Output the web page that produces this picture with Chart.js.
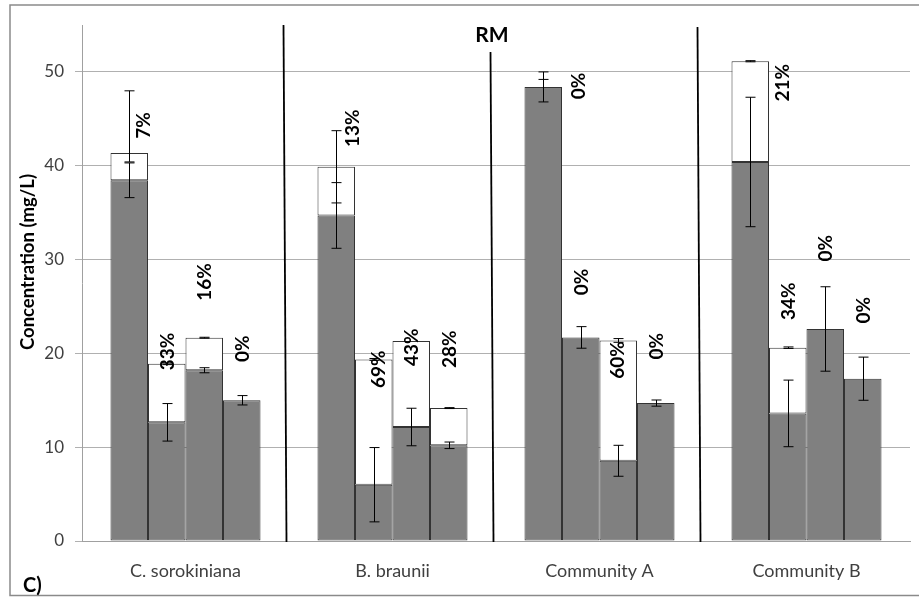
<!DOCTYPE html>
<html>
<head>
<meta charset="utf-8">
<script src="https://cdn.jsdelivr.net/npm/chart.js@4/dist/chart.umd.min.js"></script>
<style>
  html, body { margin: 0; padding: 0; background: #fff; }
  canvas { display: block; }
</style>
</head>
<body>
<canvas id="c" width="919" height="598"></canvas>
<script>
// Groups along the x axis and the value ticks on the y axis
const categories = ['C. sorokiniana', 'B. braunii', 'Community A', 'Community B'];
const yTicks = [0, 10, 20, 30, 40, 50];

// Solid (grey) part of each bar in mg/L, one array per bar position inside a group
const solid1 = [38.45, 34.7, 48.4, 40.4];
const solid2 = [12.65, 6.0, 21.7, 13.6];
const solid3 = [18.2, 12.15, 8.55, 22.6];
const solid4 = [15.0, 10.2, 14.7, 17.3];

// Share of the bar total taken by the open (white) part, in %
const share1 = [7, 13, 0, 21];
const share2 = [33, 69, 0, 34];
const share3 = [16, 43, 60, 0];
const share4 = [0, 28, 0, 0];

// Error (±) on the solid part
const solidErr1 = [1.85, 3.5, 1.6, 6.9];
const solidErr2 = [2.0, 3.96, 1.15, 3.55];
const solidErr3 = [0.27, 2.0, 1.65, 4.5];
const solidErr4 = [0.5, 0.35, 0.33, 2.3];

// Error on the bar total, upward and downward
const totalErrUp1 = [6.64, 3.85, 0.8, 0.06];
const totalErrDn1 = [0.94, 3.85, 0, 0.06];
const totalErrUp2 = [0.08, 0.1, 0, 0.08];
const totalErrDn2 = [0.08, 0.1, 0, 0.08];
const totalErrUp3 = [0.05, 0, 0.2, 0];
const totalErrDn3 = [0.05, 0, 0.2, 0];
const totalErrUp4 = [0, 0.05, 0, 0];
const totalErrDn4 = [0, 0.05, 0, 0];

// Where each % label sits: centre level in mg/L and a sideways nudge in px
const labelAt1 = [44.3, 44.0, 48.5, 48.85];
const labelNudge1 = [14, 16, 35, 32];
const labelAt2 = [20.2, 18.3, 27.6, 25.55];
const labelNudge2 = [0, 4, 0, 0];
const labelAt3 = [27.6, 20.65, 19.3, 31.2];
const labelNudge3 = [0, 0, -1, 0];
const labelAt4 = [20.5, 20.45, 20.75, 24.6];
const labelNudge4 = [0, 0, 0, 0];

const solids = [solid1, solid2, solid3, solid4];
const shares = [share1, share2, share3, share4];
const solidErrs = [solidErr1, solidErr2, solidErr3, solidErr4];
const totalUps = [totalErrUp1, totalErrUp2, totalErrUp3, totalErrUp4];
const totalDns = [totalErrDn1, totalErrDn2, totalErrDn3, totalErrDn4];
const labelAts = [labelAt1, labelAt2, labelAt3, labelAt4];
const labelNudges = [labelNudge1, labelNudge2, labelNudge3, labelNudge4];

// Open part follows from the solid part and its share of the total
const opens = solids.map((s, k) => s.map((v, i) => {
  const p = shares[k][i];
  return p > 0 ? v * p / (100 - p) : null;
}));

const FONT = 'Lato, "Open Sans", sans-serif';
const EDGE = '#333333';

const datasets = [];
for (let k = 0; k < 4; k++) {
  datasets.push({
    label: 'solid ' + (k + 1), data: solids[k], stack: 's' + k,
    backgroundColor: '#808080', borderColor: EDGE, borderWidth: 1, borderSkipped: false
  });
  datasets.push({
    label: 'open ' + (k + 1), data: opens[k], stack: 's' + k,
    backgroundColor: '#ffffff', borderColor: EDGE, borderWidth: 1, borderSkipped: false
  });
}

// White page with the grey outer frame
const frame = {
  id: 'frame',
  beforeDraw(chart) {
    const ctx = chart.ctx;
    ctx.save();
    ctx.fillStyle = '#fff';
    ctx.fillRect(0, 0, chart.width, chart.height);
    ctx.strokeStyle = '#8a8a8a';
    ctx.lineWidth = 1.5;
    ctx.strokeRect(10, 5, chart.width + 10, 590.5);
    ctx.restore();
  }
};

// Error bars, % labels, group separators and the extra texts
const overlay = {
  id: 'overlay',
  afterDatasetsDraw(chart) {
    const ctx = chart.ctx;
    const ys = chart.scales.y, xs = chart.scales.x, area = chart.chartArea;
    ctx.save();

    // vertical separators between the groups
    ctx.strokeStyle = '#000';
    ctx.lineWidth = 1.8;
    const sepTop = [area.top, 52, area.top + 2];
    for (let i = 0; i < 3; i++) {
      const b = xs.getPixelForValue(i + 0.5);
      ctx.beginPath();
      ctx.moveTo(b - 5.5, sepTop[i]);
      ctx.lineTo(b - 2.5, area.bottom + 1);
      ctx.stroke();
    }

    // error bars
    ctx.lineWidth = 1;
    ctx.strokeStyle = '#000';
    const cap = 5;
    const whisker = (x, v, up, dn) => {
      if (!(up > 0) && !(dn > 0)) return;
      const yTop = ys.getPixelForValue(v + up);
      const yBot = ys.getPixelForValue(v - dn);
      const xx = Math.round(x) + 0.5;
      ctx.beginPath();
      ctx.moveTo(xx, yTop); ctx.lineTo(xx, yBot);
      if (up > 0) { ctx.moveTo(xx - cap, yTop); ctx.lineTo(xx + cap, yTop); }
      if (dn > 0) { ctx.moveTo(xx - cap, yBot); ctx.lineTo(xx + cap, yBot); }
      ctx.stroke();
    };
    for (let k = 0; k < 4; k++) {
      const meta = chart.getDatasetMeta(2 * k);
      meta.data.forEach((bar, i) => {
        const s = solids[k][i];
        whisker(bar.x, s, solidErrs[k][i], solidErrs[k][i]);
        const total = s + (opens[k][i] || 0);
        whisker(bar.x, total, totalUps[k][i], totalDns[k][i]);
      });
    }

    // rotated % labels
    ctx.fillStyle = '#000';
    ctx.font = 'bold 19px ' + FONT;
    ctx.textAlign = 'center';
    ctx.textBaseline = 'middle';
    for (let k = 0; k < 4; k++) {
      const meta = chart.getDatasetMeta(2 * k);
      meta.data.forEach((bar, i) => {
        ctx.save();
        ctx.translate(bar.x + labelNudges[k][i], ys.getPixelForValue(labelAts[k][i]));
        ctx.rotate(-Math.PI / 2);
        ctx.fillText(shares[k][i] + '%', 0, 1);
        ctx.restore();
      });
    }

    // heading over the middle separator
    ctx.font = 'bold 21px ' + FONT;
    ctx.fillText('RM', xs.getPixelForValue(1.5) - 4, 35);

    // y axis title
    ctx.save();
    ctx.translate(28, 262);
    ctx.rotate(-Math.PI / 2);
    ctx.font = 'bold 18.5px ' + FONT;
    ctx.fillText('Concentration (mg/L)', 0, 0);
    ctx.restore();

    // panel tag
    ctx.font = 'bold 20px ' + FONT;
    ctx.textAlign = 'left';
    ctx.fillText('C)', 23, 586);

    ctx.restore();
  }
};

new Chart(document.getElementById('c'), {
  type: 'bar',
  data: { labels: categories, datasets },
  options: {
    responsive: false,
    animation: false,
    layout: { padding: { top: 25, left: 0, right: 9, bottom: 0 } },
    plugins: { legend: { display: false }, tooltip: { enabled: false }, title: { display: false } },
    datasets: { bar: { categoryPercentage: 0.7246, barPercentage: 1.0 } },
    scales: {
      x: {
        stacked: true,
        grid: { display: false },
        border: { display: true, color: '#a0a0a0' },
        ticks: { font: { family: FONT, size: 18 }, color: '#404040', padding: 11, maxRotation: 0 },
        afterFit(s) { s.height = 57; }
      },
      y: {
        stacked: true,
        min: 0, max: 55,
        grid: { color: '#b0b0b0', lineWidth: 1, tickLength: 7, drawTicks: true },
        border: { display: true, color: '#a0a0a0' },
        ticks: { font: { family: FONT, size: 17 }, color: '#404040', padding: 11, includeBounds: false },
        afterBuildTicks(s) { s.ticks = yTicks.map(v => ({ value: v })); },
        afterFit(s) { s.width = 82; }
      }
    }
  },
  plugins: [frame, overlay]
});
</script>
</body>
</html>
